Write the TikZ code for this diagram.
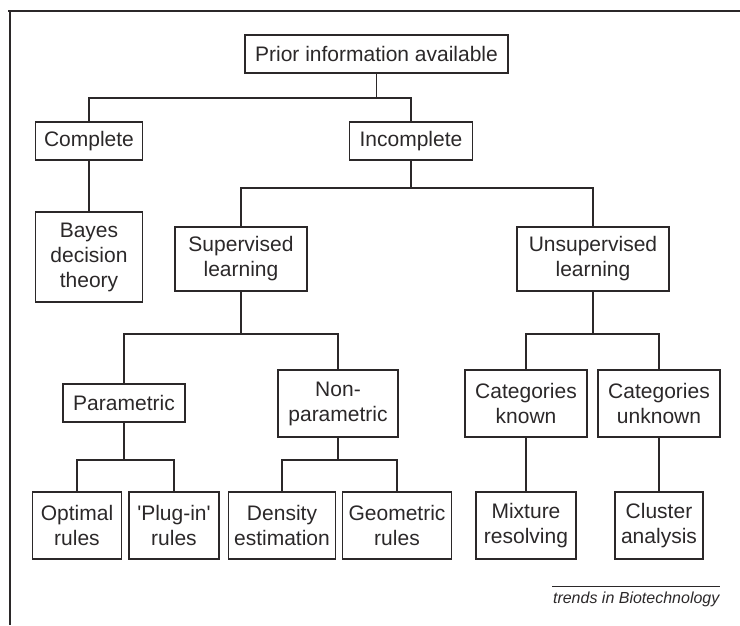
\documentclass[tikz,border=0pt]{standalone}
\usepackage{fontspec}
\setmainfont{Liberation Sans}
\usepackage{tikz}
\usetikzlibrary{positioning}
\definecolor{ink}{HTML}{2B2829}
\tikzset{
    every node/.style={font=\fontsize{21}{25}\selectfont,text=ink},
    box/.style={draw=ink,line width=1.2pt,align=center,inner sep=2pt,minimum height=38pt},
    tall box/.style={box,minimum height=67pt}
}

\begin{document}
\begin{tikzpicture}[x=1pt,y=-1pt,line width=1.2pt,draw=ink]
    \useasboundingbox (0,0) rectangle (740,625);
    % frame
    \draw (8,11) -- (740,11);
    \draw (10,11) -- (10,625);

        \node[box,minimum width=263pt] (prior) at (376.5,54) {Prior information available};
        \node[box,minimum width=107pt] (complete) at (89,141) {Complete};
        \node[box,minimum width=123pt] (incomplete) at (411,141) {Incomplete};
        \node[box,minimum width=107pt,minimum height=90pt] (bayes) at (89,257) {Bayes\\decision\\theory};
        \node[box,minimum width=132pt,minimum height=64pt] (supervised) at (241,259) {Supervised\\learning};
        \node[box,minimum width=152pt,minimum height=64pt] (unsupervised) at (593,259) {Unsupervised\\learning};
        \node[box,minimum width=122pt] (parametric) at (124,403) {Parametric};
        \node[tall box,minimum width=120pt] (nonpar) at (338,403.5) {Non-\\parametric};
        \node[tall box,minimum width=122pt] (catknown) at (526,403.5) {Categories\\known};
        \node[tall box,minimum width=122pt] (catunknown) at (659,403.5) {Categories\\unknown};
        \node[tall box,minimum width=89pt] (optimal) at (77,525.5) {Optimal\\rules};
        \node[tall box,minimum width=90pt] (plugin) at (174,525.5) {\textquotesingle Plug-in\textquotesingle\\rules};
        \node[tall box,minimum width=107pt] (density) at (282,525.5) {Density\\estimation};
        \node[tall box,minimum width=109pt] (geometric) at (397,525.5) {Geometric\\rules};
        \node[tall box,minimum width=100pt] (mixture) at (526,525.5) {Mixture\\resolving};
        \node[tall box,minimum width=88pt] (cluster) at (659,525.5) {Cluster\\analysis};

        % branch points
        \coordinate (j0) at (376.5,98);
        \coordinate (j1) at (411,188);
        \coordinate (j2) at (241,334);
        \coordinate (j3) at (593,334);
        \coordinate (j4) at (124,460);
        \coordinate (j5) at (338,460);

        \draw (prior.south) -- (j0);
        \draw (complete.north) |- (j0) -| (incomplete.north);
        \draw (complete.south) -- (bayes.north);
        \draw (incomplete.south) -- (j1);
        \draw (supervised.north) |- (j1) -| (unsupervised.north);
        \draw (supervised.south) -- (j2);
        \draw (parametric.north) |- (j2) -| (nonpar.north);
        \draw (unsupervised.south) -- (j3);
        \draw (catknown.north) |- (j3) -| (catunknown.north);
        \draw (parametric.south) -- (j4);
        \draw (optimal.north) |- (j4) -| (plugin.north);
        \draw (nonpar.south) -- (j5);
        \draw (density.north) |- (j5) -| (geometric.north);
        \draw (catknown.south) -- (mixture.north);
        \draw (catunknown.south) -- (cluster.north);

        % source line
        \node[anchor=east,inner sep=0pt,font=\fontsize{16}{19}\selectfont\itshape] (credit) at (720,599) {trends in Biotechnology};
        \draw[line width=0.8pt] (credit.north west) ++(0,-5) coordinate (cl) -- (cl -| credit.north east);
      \end{tikzpicture}
\end{document}
